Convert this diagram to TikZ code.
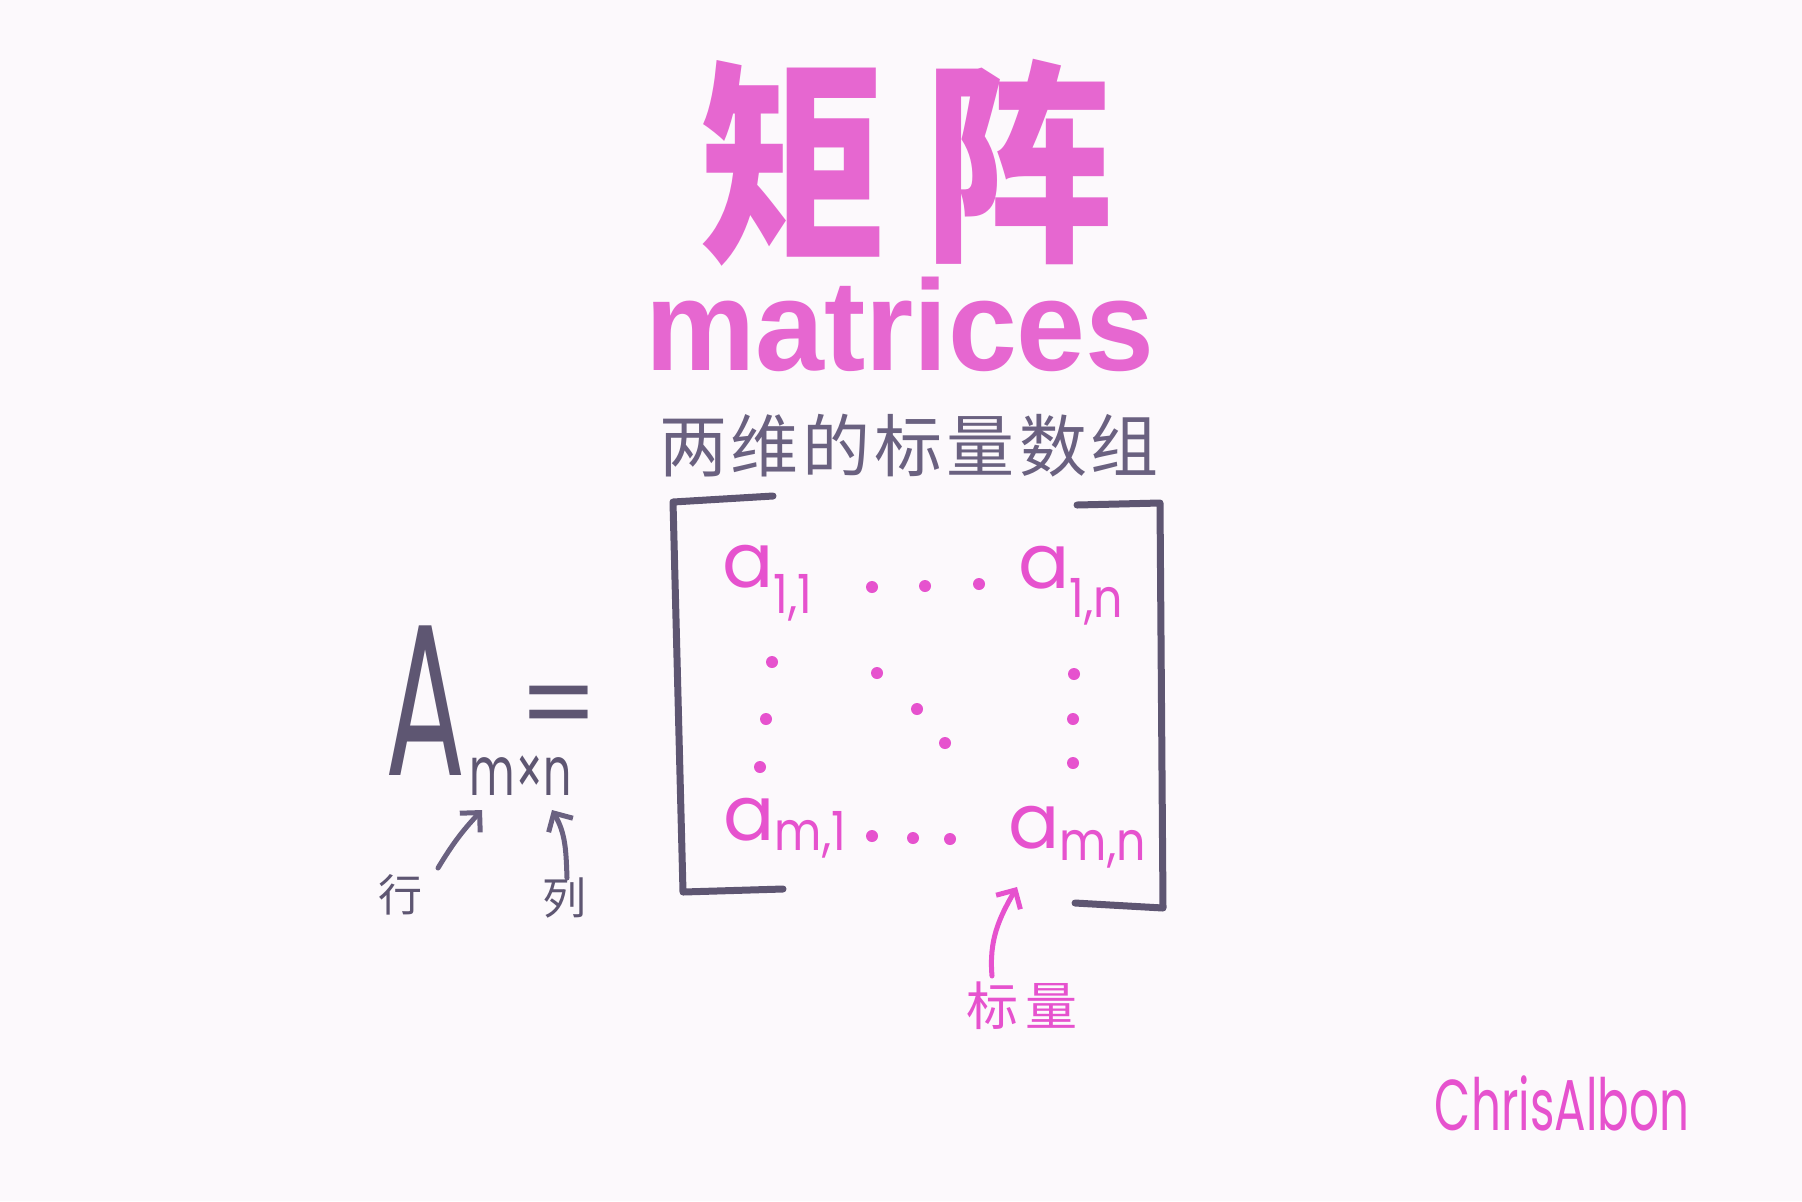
\documentclass[tikz,border=0pt]{standalone}
\usepackage{fontspec}
\usepackage{graphicx}
\usetikzlibrary{arrows.meta}
\newfontfamily\cjk{Noto Sans CJK SC}
\newfontfamily\hand{Poppins}
\newfontfamily\heavy{Liberation Sans}
\definecolor{bg}{HTML}{FCF9FC}
\definecolor{pk}{HTML}{E652CE}
\definecolor{pkt}{HTML}{E667D0}
\definecolor{gy}{HTML}{5E5672}
\definecolor{gyl}{HTML}{6A6180}
\newcommand\subf{\fontsize{27}{27}\selectfont}
\newcommand\ent[2]{a\raisebox{-#2}{\scalebox{0.85}[1]{\subf #1}}}
\tikzset{
  title/.style={text=pkt, font=\cjk\bfseries\fontsize{108}{108}\selectfont, inner sep=0pt, xscale=0.87},
  mattext/.style={text=pkt, font=\heavy\bfseries\fontsize{64.5}{64.5}\selectfont, inner sep=0pt, xscale=0.96},
  subtitle/.style={text=gyl, font=\cjk\fontsize{34}{34}\selectfont, inner sep=0pt},
  brk/.style={draw=gy, line width=3.5pt, line cap=round, line join=round},
  entry/.style={text=pk, font=\hand\fontsize{38}{38}\selectfont, inner sep=0pt, anchor=base west},
  dotp/.style={fill=pk},
  bigA/.style={text=gy, font=\hand, inner sep=0pt, anchor=base west},
  glab/.style={text=gy, font=\cjk\fontsize{22}{22}\selectfont, inner sep=0pt},
  plab/.style={text=pk, font=\cjk\fontsize{26}{26}\selectfont, inner sep=0pt},
  garr/.style={draw=gyl, line width=2.5pt, line cap=round, -{Straight Barb[length=7pt,width=14pt,line width=2.5pt]}},
  parr/.style={draw=pk, line width=2.5pt, line cap=round, -{Straight Barb[length=7pt,width=14pt,line width=2.5pt]}},
  sig/.style={text=pk, font=\hand\fontsize{36}{36}\selectfont, inner sep=0pt, xscale=0.65}
}
\begin{document}
\begin{tikzpicture}[x=0.5pt,y=-0.5pt]
\fill[bg] (0,0) rectangle (1802,1201);
\useasboundingbox (0,0) rectangle (1802,1201);

\node[title] (title) at (906,163) {矩\hspace{22pt}阵};
\node[mattext, anchor=base] (sub) at (900,370) {matrices};
\node[subtitle] (desc) at (909,446) {两\kern2pt 维\kern2pt 的\kern2pt 标\kern2pt 量\kern2pt 数\kern2pt 组};

% brackets
\draw[brk] (773,496) -- (673,502) -- (683,892) -- (783,889);
\draw[brk] (1077,505) -- (1160,503) -- (1163,908) -- (1075,903);

% entries
\node[entry] (a11) at (722,587) {\ent{1,1}{13pt}};
\node[entry] (a1n) at (1018,588) {\ent{1,n}{14.5pt}};
\node[entry] (am1) at (723,840) {\ent{m,1}{5pt}};
\node[entry] (amn) at (1008,848) {\ent{m,n}{6pt}};

% dots
\foreach \x/\y in {872/587,925/586,979/584,
                   772/662,766/719,760/767,
                   877/673,917/709,945/743,
                   1074/674,1073/719,1073/763,
                   872/836,913/838,950/839}
  \fill[dotp] (\x,\y) circle (6);

% A_{m x n} =
\node[bigA] (A) at (385,775) {\scalebox{0.55}[1]{\fontsize{108}{108}\selectfont A}\kern2pt\raisebox{-10pt}{\scalebox{0.65}[1]{\fontsize{34}{34}\selectfont m×n}}\kern-26.5pt\raisebox{16pt}{\fontsize{56}{56}\selectfont =}};

% labels and arrows
\node[glab] (hang) at (400,895) {行};
\node[glab] (lie) at (564,898) {列};
\node[plab] (scal) at (1022,1006) {标\hspace{4pt}量};

\coordinate (r1) at (438,868);
\coordinate (r2) at (482,810);
\coordinate (c1) at (567,878);
\coordinate (c2) at (552,810);
\coordinate (s1) at (992,976);
\coordinate (s2) at (1017,887);
\draw[garr] (r1) to[bend left=6] (r2);
\draw[garr] (c1) to[out=92,in=-60] (c2);
\draw[parr] (s1) to[out=95,in=-120] (s2);

\node[sig] (sig) at (1562,1103) {ChrisAlbon};
\end{tikzpicture}
\end{document}
